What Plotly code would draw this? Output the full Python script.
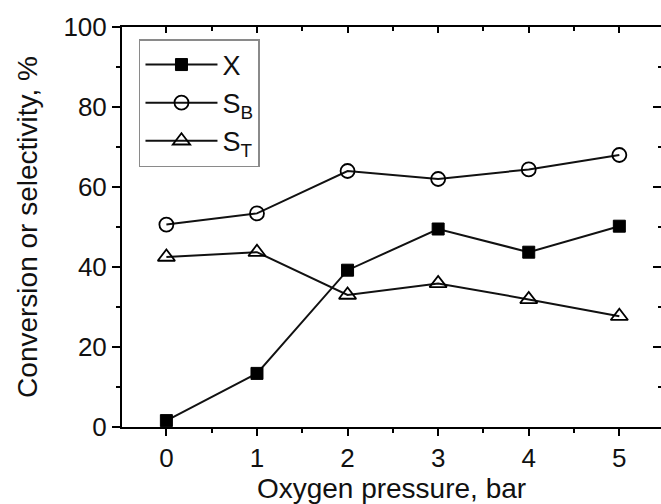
import plotly.graph_objects as go

# Oxygen pressure (bar) and measured values (%)
pressure = [0, 1, 2, 3, 4, 5]
conversion_x = [1.6, 13.4, 39.2, 49.5, 43.7, 50.2]
selectivity_b = [50.6, 53.4, 64.0, 62.0, 64.4, 68.0]
selectivity_t = [42.5, 43.7, 33.0, 35.9, 31.9, 27.7]

x_ticks = [0, 1, 2, 3, 4, 5]
y_ticks = [0, 20, 40, 60, 80, 100]

FONT = "Liberation Sans, Arial, sans-serif"
line_style = dict(color="#111111", width=2)

fig = go.Figure()
fig.add_trace(go.Scatter(
    x=pressure, y=conversion_x, name="X", mode="lines+markers",
    line=line_style, legendgroup="x",
    marker=dict(symbol="square", size=12, color="black", line=dict(color="black", width=1)),
))
fig.add_trace(go.Scatter(
    x=pressure, y=selectivity_b, name="S<sub>B</sub>", mode="lines+markers",
    line=line_style, legendgroup="b",
    marker=dict(symbol="circle-open", size=14, color="black", line=dict(width=1.8)),
))
fig.add_trace(go.Scatter(
    x=pressure, y=selectivity_t, name="S<sub>T</sub>", mode="lines+markers",
    line=line_style, legendgroup="t",
    marker=dict(symbol="triangle-up-open", size=15, color="black", line=dict(width=1.8)),
))
# invisible trace anchoring the mirrored top/right axes
fig.add_trace(go.Scatter(x=[0], y=[0], xaxis="x2", yaxis="y2", mode="markers",
                         marker=dict(opacity=0), showlegend=False, hoverinfo="skip"))

x_range = [-0.49, 5.46]
y_range = [0, 100]

fig.update_layout(
    width=661, height=504,
    margin=dict(l=122, r=0, t=27, b=77),
    paper_bgcolor="white", plot_bgcolor="white",
    font=dict(family=FONT, size=26, color="black"),
    showlegend=True,
    legend=dict(
        x=0.0315, y=0.97, xanchor="left", yanchor="top",
        bgcolor="white", bordercolor="#8a8a8a", borderwidth=1.5,
        font=dict(family=FONT, size=27, color="#111111"),
        tracegroupgap=0, itemwidth=72,
    ),
    xaxis=dict(
        range=x_range, tickvals=x_ticks, showgrid=False, zeroline=False,
        showline=True, linecolor="black", linewidth=2,
        ticks="outside", ticklen=7, tickwidth=2, tickcolor="black",
        minor=dict(tickvals=[0.5, 1.5, 2.5, 3.5, 4.5], ticks="outside",
                   ticklen=4, tickwidth=2, tickcolor="black"),
        title=dict(text="Oxygen pressure, bar", standoff=2, font=dict(size=28, color="#111111")),
        tickfont=dict(size=26, color="#111111"),
    ),
    yaxis=dict(
        range=y_range, tickvals=y_ticks, showgrid=False, zeroline=False,
        showline=True, linecolor="black", linewidth=2,
        ticks="outside", ticklen=8, tickwidth=2, tickcolor="black",
        minor=dict(tickvals=[10, 30, 50, 70, 90], ticks="outside",
                   ticklen=4, tickwidth=2, tickcolor="black"),
        title=dict(text="Conversion or selectivity, %", standoff=18, font=dict(size=28, color="#111111")),
        tickfont=dict(size=26, color="#111111"),
    ),
    xaxis2=dict(
        overlaying="x", side="top", anchor="y", range=x_range, tickvals=x_ticks,
        showticklabels=False, showgrid=False, zeroline=False,
        showline=True, linecolor="black", linewidth=2,
        ticks="inside", ticklen=6, tickwidth=2, tickcolor="black",
        minor=dict(tickvals=[0.5, 1.5, 2.5, 3.5, 4.5], ticks="inside",
                   ticklen=4, tickwidth=2, tickcolor="black"),
    ),
    yaxis2=dict(
        overlaying="y", side="right", anchor="x", range=y_range, tickvals=y_ticks,
        showticklabels=False, showgrid=False, zeroline=False, showline=False,
        ticks="inside", ticklen=8, tickwidth=2, tickcolor="black",
        minor=dict(tickvals=[10, 30, 50, 70, 90], ticks="inside",
                   ticklen=3, tickwidth=2, tickcolor="black"),
    ),
)

fig.write_html("out.html")
